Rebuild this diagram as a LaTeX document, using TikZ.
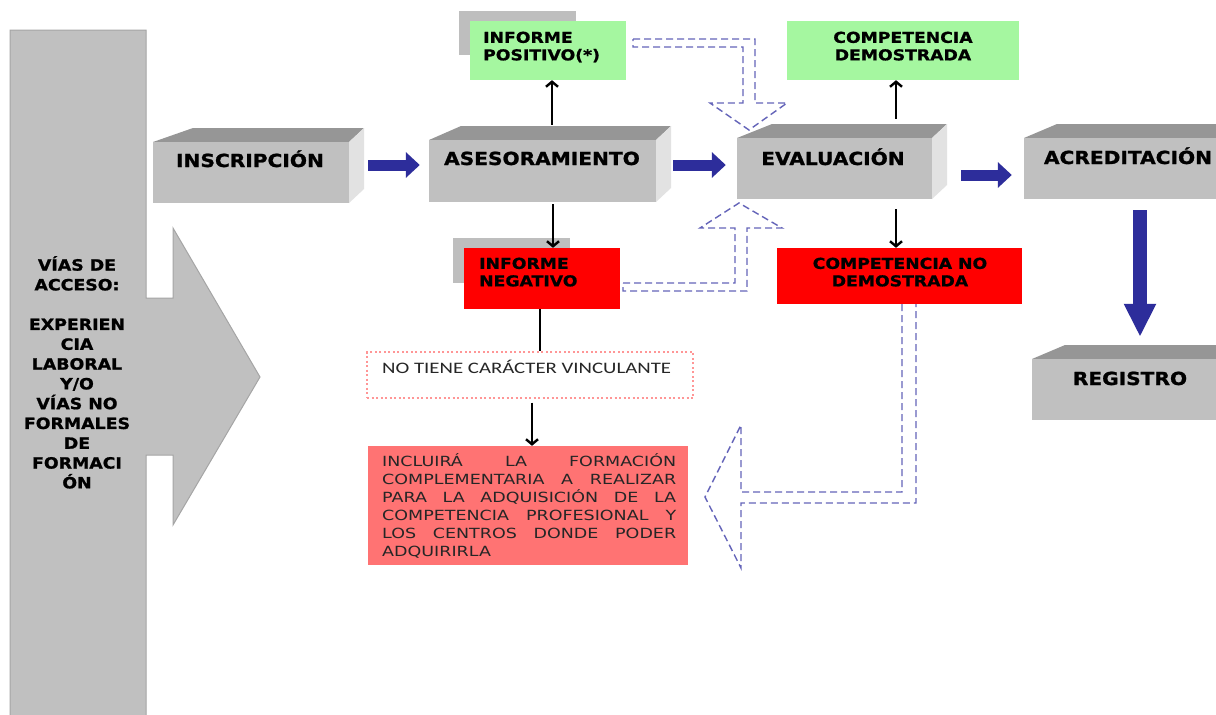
\documentclass[tikz,border=0pt]{standalone}
\usepackage{fontspec}
\setmainfont{DejaVu Sans}[FakeStretch=1.12, BoldFeatures={FakeBold=1.2}]
\newfontfamily\smallbf{DejaVu Sans}[FakeStretch=1.15, BoldFeatures={FakeBold=1}]
\newfontfamily\verd{DejaVu Sans}[FakeStretch=1.25]
\newfontfamily\calib{Carlito}[FakeStretch=1.3]
\usetikzlibrary{arrows.meta}
\definecolor{gfront}{RGB}{192,192,192}
\definecolor{gtop}{RGB}{150,150,150}
\definecolor{gside}{RGB}{226,226,226}
\definecolor{gborder}{RGB}{165,165,165}
\definecolor{shadowc}{RGB}{190,190,190}
\definecolor{greenc}{RGB}{165,247,160}
\definecolor{redc}{RGB}{255,0,0}
\definecolor{salmon}{RGB}{255,115,115}
\definecolor{pinkdot}{RGB}{255,150,150}
\definecolor{navyc}{RGB}{45,45,155}
\definecolor{dashblue}{RGB}{100,100,185}
\newcommand\cubebox[6]{%
  \fill[gtop] (#2,#3) -- (#2+#6,#3-14) -- (#4+15,#3-14) -- (#4,#3) -- cycle;
  \fill[gside] (#4,#3) -- (#4+15,#3-14) -- (#4+15,#5-14) -- (#4,#5) -- cycle;
  \node[front, minimum width={#4-#2}, minimum height={#5-#3}] (#1) at ({(#2+#4)/2},{(#3+#5)/2}) {};
}
\newcommand\jline[1]{{\spaceskip=3pt plus 1fil\relax\makebox[294pt][s]{#1}}}
\begin{document}
\begin{tikzpicture}[x=1pt,y=-1pt,
  front/.style={rectangle, fill=gfront, draw=none, inner sep=0},
  biglabel/.style={anchor=base, inner sep=0, font=\bfseries\fontsize{18}{22}\selectfont},
  greenbox/.style={rectangle, fill=greenc, draw=none, inner sep=0},
  redbox/.style={rectangle, fill=redc, draw=none, inner sep=0},
  shadowbox/.style={fill=shadowc},
  smalllabel/.style={inner sep=0, font=\smallbf\bfseries\fontsize{15}{17.5}\selectfont},
  blk/.style={draw=black, line width=2.4pt, -{Straight Barb[length=5pt,width=12pt]}},
  blkline/.style={draw=black, line width=2.4pt},
  blu/.style={draw=navyc, line width=11pt, -{Triangle[length=14pt,width=25pt]}},
  bluv/.style={draw=navyc, line width=14pt, -{Triangle[length=33pt,width=30pt]}},
  dasharrow/.style={draw=dashblue, line width=1.4pt, dash pattern=on 7pt off 4pt, line join=miter},
]
\useasboundingbox (0,0) rectangle (1216,715);
\clip (0,0) rectangle (1216,715);
\fill[white] (0,0) rectangle (1216,715);

% left column with big arrow
\path[fill=gfront, draw=gborder, line width=1pt] (10,30) -- (146,30) -- (146,298) -- (173,298) -- (173,228)
  -- (260,377) -- (173,525) -- (173,455) -- (146,455) -- (146,720) -- (10,720) -- cycle;
\node[anchor=north, inner sep=0, align=center, font=\bfseries\fontsize{15.5}{19.8}\selectfont] (vias) at (77,256)
  {VÍAS DE\\ACCESO:\\[19.8pt]EXPERIEN\\CIA\\LABORAL\\Y/O\\VÍAS NO\\FORMALES\\DE\\FORMACI\\ÓN};

% 3D boxes
\cubebox{insc}{153}{142}{349}{203}{40}
\cubebox{ases}{429}{140}{656}{202}{32}
\cubebox{eval}{737}{138}{932}{199}{35}
\cubebox{acred}{1024}{138}{1240}{199}{33}
\cubebox{reg}{1032}{359}{1240}{420}{33}
\node[biglabel] (inscT) at (250,167) {INSCRIPCIÓN};
\node[biglabel] (asesT) at (542,165) {ASESORAMIENTO};
\node[biglabel] (evalT) at (833,165) {EVALUACIÓN};
\node[biglabel] (acredT) at (1128,164) {ACREDITACIÓN};
\node[biglabel] (regT) at (1130,385) {REGISTRO};

% dashed block arrows
\draw[dasharrow] (633,39) -- (755,39) -- (755,103) -- (787,103) -- (749,130) -- (710,103) -- (743,103) -- (743,47) -- (633,47) -- cycle;
\draw[dasharrow] (623,283) -- (735,283) -- (735,228) -- (700,228) -- (739,203) -- (782,228) -- (747,228) -- (747,291) -- (623,291) -- cycle;
\draw[dasharrow] (902,304) -- (902,492) -- (741,492) -- (741,425) -- (705,497) -- (741,568) -- (741,503) -- (916,503) -- (916,304);

% green boxes
\fill[shadowbox] (459,11) rectangle (576,55);
\node[greenbox, minimum width=156, minimum height=59] (ipos) at (548,50.5) {};
\node[smalllabel, anchor=north west, align=left] (iposT) at (483,31.5) {INFORME\\POSITIVO(*)};
\node[greenbox, minimum width=232, minimum height=59] (cdem) at (903,50.5) {};
\node[smalllabel, anchor=north, align=center] (cdemT) at (903,31.5) {COMPETENCIA\\DEMOSTRADA};

% red boxes
\fill[shadowbox] (453,238) rectangle (570,283);
\node[redbox, minimum width=156, minimum height=61] (ineg) at (542,278.5) {};
\node[smalllabel, anchor=north west, align=left] (inegT) at (479,257.5) {INFORME\\NEGATIVO};
\node[redbox, minimum width=245, minimum height=56] (cnd) at (899.5,276) {};
\node[smalllabel, anchor=north, align=center] (cndT) at (900,257.5) {COMPETENCIA NO\\DEMOSTRADA};

% no tiene caracter vinculante
\node[rectangle, fill=white, draw=pinkdot, line width=1.3pt, dash pattern=on 2pt off 2.5pt, inner sep=0, minimum width=326, minimum height=46] (nt) at (530,375) {};
\node[anchor=base west, inner sep=0, font=\calib\fontsize{16}{18}\selectfont, text=black!85] (ntT) at (382,373) {NO TIENE CARÁCTER VINCULANTE};

% incluira box
\node[rectangle, fill=salmon, draw=none, inner sep=0, minimum width=320, minimum height=119] (incl) at (528,505.5) {};
\node[anchor=north west, inner sep=0, align=left, font=\verd\fontsize{14}{18}\selectfont, text=black!85] (inclT) at (382,453.8)
  {\jline{INCLUIRÁ LA FORMACIÓN}\\
   \jline{COMPLEMENTARIA A REALIZAR}\\
   \jline{PARA LA ADQUISICIÓN DE LA}\\
   \jline{COMPETENCIA PROFESIONAL Y}\\
   \jline{LOS CENTROS DONDE PODER}\\
   ADQUIRIRLA};

% blue flow arrows
\draw[blu] ([xshift=19pt,yshift=7.5pt]insc.east) -- ([xshift=-9pt,yshift=6pt]ases.west);
\draw[blu] ([xshift=17pt,yshift=6pt]ases.east) -- ([xshift=-11pt,yshift=3.5pt]eval.west);
\draw[blu] ([xshift=29pt,yshift=-6.5pt]eval.east) -- ([xshift=-12pt,yshift=-6.5pt]acred.west);
\draw[bluv] ([xshift=8pt,yshift=-11pt]acred.south) -- ([xshift=4pt,yshift=22pt]reg.north);

% black arrows
\draw[blk] ([xshift=9.5pt,yshift=15pt]ases.north) -- ([xshift=4pt]ipos.south);
\draw[blk] ([xshift=61.5pt,yshift=19pt]eval.north) -- ([xshift=-7pt]cdem.south);
\draw[blk] ([xshift=10.5pt,yshift=-2pt]ases.south) -- ([xshift=11pt]ineg.north);
\draw[blk] ([xshift=61.5pt,yshift=-10pt]eval.south) -- ([xshift=-3.5pt]cnd.north);
\draw[blkline] ([xshift=-2pt]ineg.south) -- ([xshift=10pt]nt.north);
\draw[blk] ([xshift=2pt,yshift=-4pt]nt.south) -- ([xshift=4pt]incl.north);
\end{tikzpicture}
\end{document}
